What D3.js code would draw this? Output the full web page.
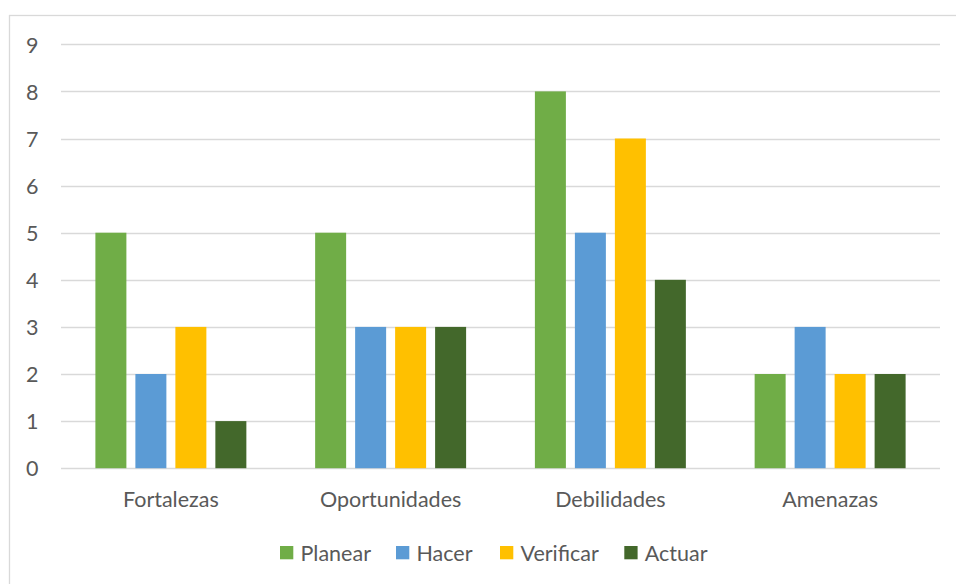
<!DOCTYPE html>
<html>
<head>
<meta charset="utf-8">
<script src="https://cdn.jsdelivr.net/npm/d3@7"></script>
<style>
  html, body { margin: 0; padding: 0; background: #fff; }
  svg { display: block; }
</style>
</head>
<body>
<svg id="chart" width="956" height="584"></svg>
<script>
// Categories, series and values
const categories = ["Fortalezas", "Oportunidades", "Debilidades", "Amenazas"];
const seriesNames = ["Planear", "Hacer", "Verificar", "Actuar"];
const planear   = [5, 5, 8, 2];
const hacer     = [2, 3, 5, 3];
const verificar = [3, 3, 7, 2];
const actuar    = [1, 3, 4, 2];
const yTicks = [0, 1, 2, 3, 4, 5, 6, 7, 8, 9];
const colors = ["#70ad47", "#5b9bd5", "#ffc000", "#43682b"];

const seriesValues = [planear, hacer, verificar, actuar];

const FONT = "Lato, 'Open Sans', sans-serif";
const FS = 21.5;
const TEXT_COLOR = "#595959";

const svg = d3.select("#chart");
const W = 956, H = 584;
const plot = { left: 61, right: 940, top: 44.3, bottom: 468.2 };

// chart frame
svg.append("rect")
  .attr("x", 9.5).attr("y", 15.5)
  .attr("width", W + 10).attr("height", H + 10)
  .attr("fill", "none").attr("stroke", "#d9d9d9").attr("stroke-width", 1.3);

const y = d3.scaleLinear().domain([0, 9]).range([plot.bottom, plot.top]);
const x0 = d3.scaleBand().domain(categories).range([plot.left, plot.right]).padding(0);
const x1 = d3.scaleBand().domain(seriesNames).range([0, x0.bandwidth()])
  .paddingInner(0.225).paddingOuter(0.86);

// horizontal gridlines
svg.append("g")
  .selectAll("line")
  .data(yTicks)
  .join("line")
  .attr("x1", plot.left).attr("x2", plot.right)
  .attr("y1", d => Math.round(y(d)) + 0.5).attr("y2", d => Math.round(y(d)) + 0.5)
  .attr("stroke", "#d9d9d9").attr("stroke-width", 1.3);

// y axis labels
const yAxis = d3.axisLeft(y).tickValues(yTicks).tickSize(0).tickPadding(0);
svg.append("g")
  .attr("transform", `translate(38.5,0)`)
  .call(yAxis)
  .call(g => g.select(".domain").remove())
  .call(g => g.selectAll("text")
    .style("font-size", FS + "px").style("fill", TEXT_COLOR)
    .style("font-family", FONT).attr("dy", "0.36em"));

// bars
const groups = svg.append("g")
  .selectAll("g")
  .data(categories)
  .join("g")
  .attr("transform", d => `translate(${x0(d)},0)`);

groups.selectAll("rect")
  .data((c, i) => seriesNames.map((s, k) => ({ s, v: seriesValues[k][i], k })))
  .join("rect")
  .attr("x", d => x1(d.s))
  .attr("width", x1.bandwidth())
  .attr("y", d => y(d.v))
  .attr("height", d => y(0) - y(d.v))
  .attr("fill", d => colors[d.k]);

// category axis labels
const xAxis = d3.axisBottom(x0).tickSize(0).tickPadding(0);
svg.append("g")
  .attr("transform", `translate(0,507.3)`)
  .call(xAxis)
  .call(g => g.select(".domain").remove())
  .call(g => g.selectAll("text")
    .attr("dy", 0)
    .style("font-size", FS + "px").style("fill", TEXT_COLOR)
    .style("font-family", FONT));

// legend
const legendX = [280, 396, 500, 624.3];
const legend = svg.append("g").attr("transform", "translate(0,546)");
const items = legend.selectAll("g")
  .data(seriesNames)
  .join("g")
  .attr("transform", (d, i) => `translate(${legendX[i]},0)`);
items.append("rect")
  .attr("width", 13.3).attr("height", 13.3)
  .attr("fill", (d, i) => colors[i]);
items.append("text")
  .attr("x", 20.5).attr("y", 14.7)
  .style("font-size", FS + "px").style("fill", TEXT_COLOR)
  .style("font-family", FONT)
  .text(d => d);
</script>
</body>
</html>
